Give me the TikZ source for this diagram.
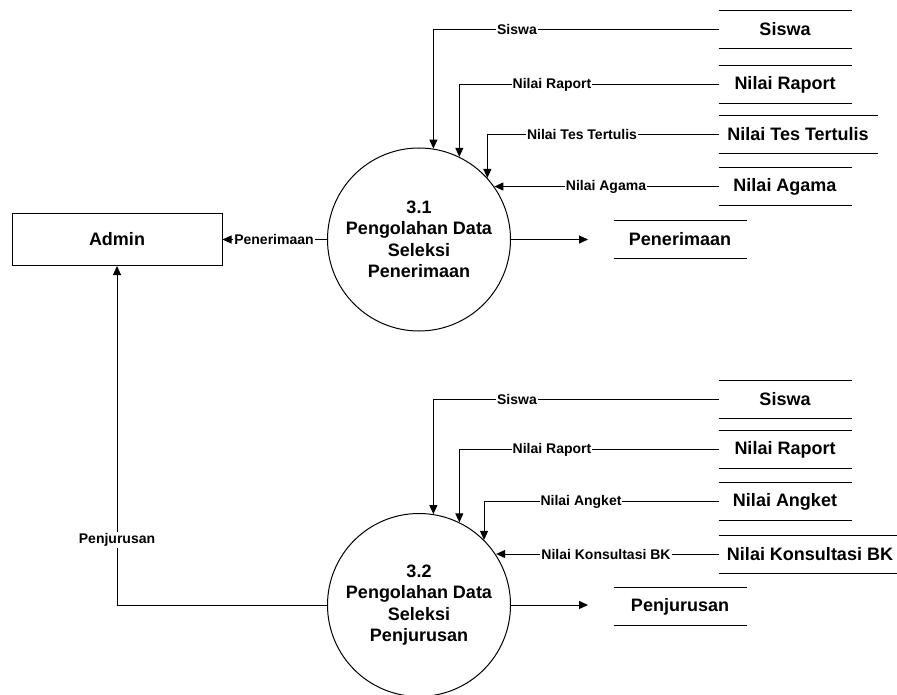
\documentclass[tikz,border=0pt]{standalone}
\usepackage{fontspec}
\setmainfont{Liberation Sans}
\usetikzlibrary{arrows.meta}
\begin{document}
\begin{tikzpicture}[x=1pt,y=-1pt, line width=1pt,
  >={Triangle[length=9pt,width=8pt]},
  proc/.style={circle, draw, minimum size=183pt, inner sep=0pt, align=center,
    font=\bfseries\fontsize{18}{21.5}\selectfont},
  ent/.style={draw, minimum width=210pt, minimum height=52pt, inner sep=0pt,
    font=\bfseries\fontsize{18}{21.5}\selectfont},
  store/.style={minimum height=37pt, inner sep=0pt,
    font=\bfseries\fontsize{18}{21.5}\selectfont},
  lbl/.style={fill=white, inner sep=1pt, font=\bfseries\fontsize{14}{16}\selectfont}]
\useasboundingbox (0,0) rectangle (897,695);

% entity
\node[ent] (adm) at (117,239.5) {Admin};

% processes
\node[proc] (c1) at (419,239.5) {3.1\\Pengolahan Data\\Seleksi\\Penerimaan};
\node[proc] (c2) at (419,605) {3.2\\Pengolahan Data\\Seleksi\\Penjurusan};

% data stores (top group)
\node[store, minimum width=132pt] (sa1) at (785,29.5) {Siswa};
\node[store, minimum width=132pt] (ra1) at (785,84.5) {Nilai Raport};
\node[store, minimum width=158pt] (tt1) at (798,134.5) {Nilai Tes Tertulis};
\node[store, minimum width=132pt] (ag1) at (785,186.5) {Nilai Agama};
\node[store, minimum width=132pt] (pn1) at (680,239.5) {Penerimaan};

% data stores (bottom group)
\node[store, minimum width=132pt] (sa2) at (785,399.5) {Siswa};
\node[store, minimum width=132pt] (ra2) at (785,449.5) {Nilai Raport};
\node[store, minimum width=132pt] (an2) at (785,501.5) {Nilai Angket};
\node[store, minimum width=182pt] (kb2) at (810,554) {Nilai Konsultasi BK};
\node[store, minimum width=132pt] (pj2) at (680,606.5) {Penjurusan};

\foreach \n in {sa1,ra1,tt1,ag1,pn1,sa2,ra2,an2,kb2,pj2}
  \draw (\n.north west) -- (\n.north east) (\n.south west) -- (\n.south east);

% flows into 3.1
\draw[->] (sa1.west) -| (c1.81.2);
\draw[->] (ra1.west) -| (c1.64.8);
\draw[->] (tt1.west) -| (c1.42.9);
\draw[->] (ag1.west) -- (c1.35 |- ag1.west);
\node[lbl] at (517,29.5) {Siswa};
\node[lbl] at (552,84.5) {Nilai Raport};
\node[lbl] at (582,134.5) {Nilai Tes Tertulis};
\node[lbl] at (606,186.5) {Nilai Agama};

% flows into 3.2
\draw[->] (sa2.west) -| (c2.81.8);
\draw[->] (ra2.west) -| (c2.64.8);
\draw[->] (an2.west) -| (c2.45.6);
\draw[->] (kb2.west) -- (c2.33.9 |- kb2.west);
\node[lbl] at (517,399.5) {Siswa};
\node[lbl] at (552,449.5) {Nilai Raport};
\node[lbl] at (581,501.5) {Nilai Angket};
\node[lbl] at (606,554) {Nilai Konsultasi BK};

% outputs
\coordinate (o1) at (588,239.5);
\coordinate (o2) at (588,605);
\draw[->] (c1.east) -- (o1);
\draw[->] (c2.east) -- (o2);

% to admin
\draw[->] (c1.west) -- (adm.east);
\node[lbl] at (274,239.5) {Penerimaan};
\draw[->] (c2.west) -| (adm.south);
\node[lbl] at (117,540) {Penjurusan};
\end{tikzpicture}
\end{document}
